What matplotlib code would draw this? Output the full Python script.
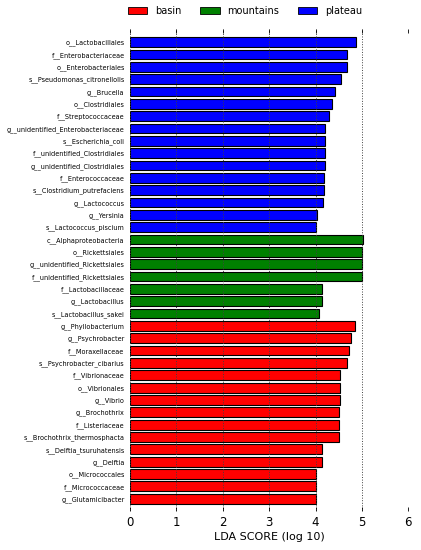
import matplotlib
matplotlib.use('Agg')
import matplotlib.pyplot as plt
from matplotlib.patches import Patch

# features listed top to bottom, as in the picture
plateau_names = ['o__Lactobacillales', 'f__Enterobacteriaceae', 'o__Enterobacteriales',
                 's__Pseudomonas_citronellolis', 'g__Brucella', 'o__Clostridiales',
                 'f__Streptococcaceae', 'g__unidentified_Enterobacteriaceae', 's__Escherichia_coli',
                 'f__unidentified_Clostridiales', 'g__unidentified_Clostridiales', 'f__Enterococcaceae',
                 's__Clostridium_putrefaciens', 'g__Lactococcus', 'g__Yersinia', 's__Lactococcus_piscium']
plateau_lda = [4.87, 4.67, 4.67, 4.54, 4.41, 4.35, 4.29, 4.21, 4.21, 4.21, 4.21, 4.18, 4.18, 4.16, 4.02, 4.01]

mountains_names = ['c__Alphaproteobacteria', 'o__Rickettsiales', 'g__unidentified_Rickettsiales',
                   'f__unidentified_Rickettsiales', 'f__Lactobacillaceae', 'g__Lactobacillus',
                   's__Lactobacillus_sakei']
mountains_lda = [5.03, 5.00, 5.00, 5.00, 4.14, 4.14, 4.08]

basin_names = ['g__Phyllobacterium', 'g__Psychrobacter', 'f__Moraxellaceae', 's__Psychrobacter_cibarius',
               'f__Vibrionaceae', 'o__Vibrionales', 'g__Vibrio', 'g__Brochothrix', 'f__Listeriaceae',
               's__Brochothrix_thermosphacta', 's__Delftia_tsuruhatensis', 'g__Delftia',
               'o__Micrococcales', 'f__Micrococcaceae', 'g__Glutamicibacter']
basin_lda = [4.85, 4.77, 4.73, 4.67, 4.53, 4.53, 4.53, 4.51, 4.51, 4.51, 4.14, 4.14, 4.01, 4.01, 4.00]

groups = ['basin', 'mountains', 'plateau']
group_colors = {'basin': 'red', 'mountains': 'green', 'plateau': 'blue'}

names = plateau_names + mountains_names + basin_names
vals = plateau_lda + mountains_lda + basin_lda
cols = (['blue'] * len(plateau_names) + ['green'] * len(mountains_names)
        + ['red'] * len(basin_names))
# barh draws index 0 at the bottom
names, vals, cols = names[::-1], vals[::-1], cols[::-1]
ypos = list(range(len(names)))

fig = plt.figure(figsize=(4.21, 5.5), dpi=100)
ax = fig.add_axes([0.309, 0.071, 0.661, 0.876])
ax.barh(ypos, vals, height=0.8, color=cols, edgecolor='black', linewidth=0.8, zorder=2)

ax.set_xlim(0, 6)
ax.set_ylim(-1.0, len(names) + 0.05)
ax.set_yticks(ypos)
ax.set_yticklabels(names, fontsize=4.7)
ax.set_xticks(range(7))
ax.tick_params(axis='x', top=True, bottom=True, direction='in', length=3, width=0.6,
               labelsize=8.5, pad=3.5)
ax.tick_params(axis='y', length=0, pad=4)
for s in ax.spines.values():
    s.set_visible(False)
ax.grid(axis='x', linestyle=':', color='0.25', linewidth=0.7, zorder=3)
ax.set_axisbelow(False)
ax.set_xlabel('LDA SCORE (log 10)', fontsize=8, labelpad=2)

handles = [Patch(facecolor=group_colors[g], edgecolor='black', linewidth=0.6) for g in groups]
fig.legend(handles, groups, loc='center', bbox_to_anchor=(245 / 421, 1 - 11 / 550), ncol=3,
           frameon=False, fontsize=7, handlelength=2.0, handleheight=0.7,
           handletextpad=0.8, columnspacing=1.9)

fig.savefig('out.png', dpi=100)
